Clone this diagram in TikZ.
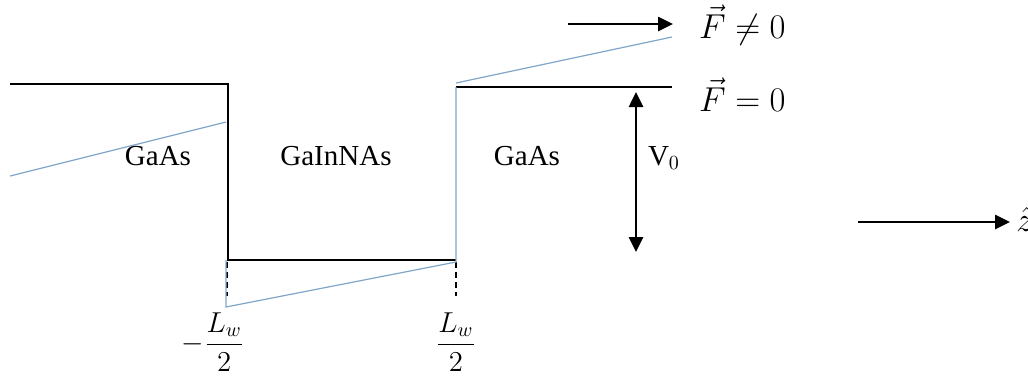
\documentclass[tikz,border=0pt]{standalone}
\usepackage{amsmath}
\usepackage{fontspec}
\setmainfont{Liberation Serif}
\usetikzlibrary{arrows.meta}
\definecolor{bandFieldBlue}{HTML}{7FA6C9}

\begin{document}
\begin{tikzpicture}[x=0.5pt, y=-0.5pt,
    band/.style={line width=0.6pt, black},
    tilt/.style={line width=0.6pt, bandFieldBlue},
    edge/.style={line width=0.6pt, dashed, dash pattern=on 3pt off 2pt},
    bigarrow/.style={line width=1.3pt, -{Triangle[length=7.5pt,width=7pt]}},
    lbl/.style={font=\fontsize{14.5}{16}\selectfont},
    mlbl/.style={font=\fontsize{17}{19}\selectfont}]
            \useasboundingbox (0,0) rectangle (1028,377);
            % zero field
            \draw[band] (10,84) -- (228,84) -- (228,260) -- (456,260);
            \draw[band] (456,87) -- (672,87);
            \draw[edge] (227,262) -- (227,296);
            \draw[edge] (456,262) -- (456,296);
            % with field
            \draw[tilt] (10,176) -- (226,122);
            \draw[tilt] (226,260) -- (226,307) -- (456,262) -- (456,87);
            \draw[tilt] (456,83) -- (672,37);
            % labels
            \node[lbl] (left) at (158,156) {GaAs};
            \node[lbl] (well) at (336,156) {GaInNAs};
            \node[lbl] (right) at (527,156) {GaAs};
            \node[lbl] (vzero) at (664,158) {V$_0$};
            \coordinate (vtop) at (636,92);
            \coordinate (vbot) at (636,252);
            \draw[bigarrow, {Triangle[length=7.5pt,width=7pt]}-{Triangle[length=7.5pt,width=7pt]}] (vtop) -- (vbot);
            \coordinate (fa) at (568,24);
            \coordinate (fb) at (673,24);
            \draw[bigarrow] (fa) -- (fb);
            \node[mlbl, anchor=west] (fne) at (692,25) {$\vec{F}\neq 0$};
            \node[mlbl, anchor=west] (feq) at (692,95) {$\vec{F}=0$};
            \coordinate (za) at (858,222);
            \coordinate (zb) at (1010,222);
            \draw[bigarrow] (za) -- (zb);
            \node[mlbl, anchor=west, inner sep=1pt] (zhat) at (1014,219) {$\hat{z}$};
            \node[lbl] (lwl) at (213,342) {$-\dfrac{L_w}{2}$};
            \node[lbl] (lwr) at (456,342) {$\dfrac{L_w}{2}$};
        \end{tikzpicture}
\end{document}
